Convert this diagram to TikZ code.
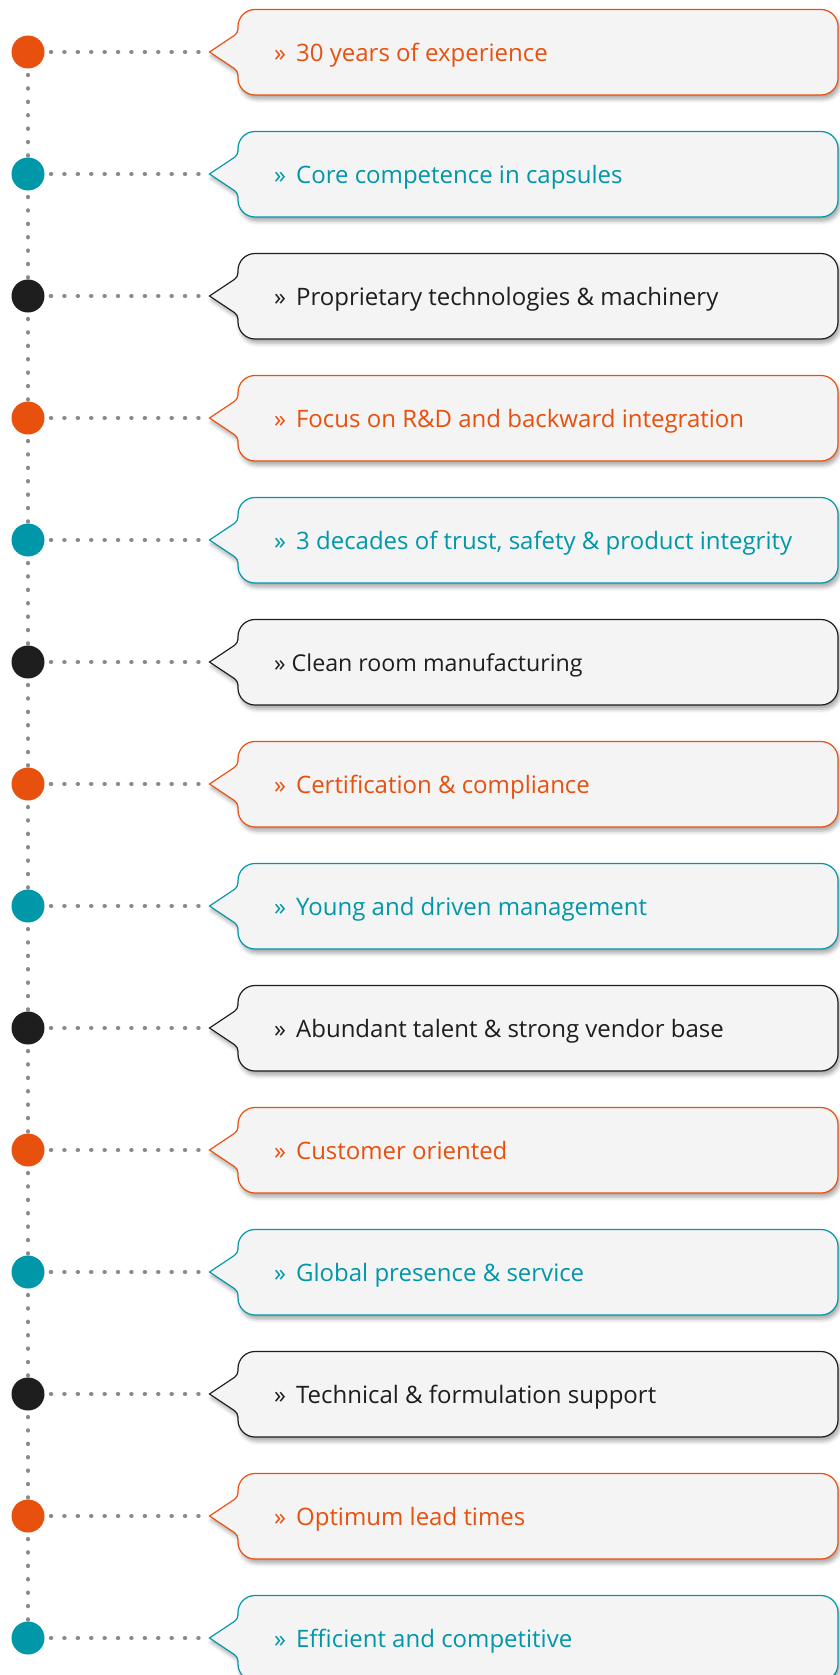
\documentclass[tikz,border=0pt]{standalone}
\usepackage{fontspec}
\setmainfont{Open Sans}
\usetikzlibrary{shadows.blur}
\definecolor{corange}{HTML}{E8500E}
\definecolor{cteal}{HTML}{0097A9}
\definecolor{cblack}{HTML}{1E1E1E}
\definecolor{boxfill}{HTML}{F4F4F4}
\definecolor{dotgray}{HTML}{8A8A8A}
\begin{document}
\begin{tikzpicture}[x=1pt,y=1pt,
  dotnode/.style={circle, minimum size=33pt, inner sep=0pt, fill=#1},
  dotline/.style={draw=dotgray, line width=4.4pt, line cap=round, dash pattern=on 0.1pt off 13.3pt},
  callout/.style={draw=#1, fill=boxfill, line width=1.2pt,
    blur shadow={shadow xshift=2pt, shadow yshift=-4pt, shadow blur radius=4pt, shadow opacity=35}},
  itemtext/.style={text=#1, anchor=base west, inner sep=0pt, font=\fontsize{24}{28}\selectfont}]
\useasboundingbox (0,0) rectangle (839,-1675);
% connectors first (behind dots and callouts)
\foreach \k in {0,...,13} {
  \pgfmathsetmacro\yy{-(52+122*\k)}
  \coordinate (p\k) at (28,\yy);
  \coordinate (tip\k) at (209.5,\yy);
}
\foreach \k in {0,...,13} {
  \path[dotline] ([xshift=23pt]p\k) -- (tip\k);
}
\foreach \k [count=\j from 1] in {0,...,12} {
  \path[dotline] ([yshift=-23pt]p\k) -- (p\j);
}
\foreach \col/\txt [count=\k from 0] in {
  corange/{»\hspace{10pt}30 years of experience},
  cteal/{»\hspace{10pt}Core competence in capsules},
  cblack/{»\hspace{10pt}Proprietary technologies \& machinery},
  corange/{»\hspace{10pt}Focus on R\&D and backward integration},
  cteal/{»\hspace{10pt}3 decades of trust, safety \& product integrity},
  cblack/{\fontsize{23.2}{28}\selectfont» Clean room manufacturing},
  corange/{»\hspace{10pt}Certification \& compliance},
  cteal/{»\hspace{10pt}Young and driven management},
  cblack/{»\hspace{10pt}Abundant talent \& strong vendor base},
  corange/{»\hspace{10pt}Customer oriented},
  cteal/{»\hspace{10pt}Global presence \& service},
  cblack/{»\hspace{10pt}Technical \& formulation support},
  corange/{»\hspace{10pt}Optimum lead times},
  cteal/{»\hspace{10pt}Efficient and competitive}} {
  \pgfmathsetmacro\yy{-(52+122*\k)}
  \node[dotnode=\col] (c\k) at (p\k) {};
  \path[callout=\col, rounded corners=17pt]
    (520,\yy+42.5) -- (838,\yy+42.5) -- (838,\yy-43) -- (238,\yy-43)
    [rounded corners=4pt] -- (238,\yy-19) [sharp corners] -- (tip\k)
    [rounded corners=4pt] -- (238,\yy+19) [rounded corners=17pt] -- (238,\yy+42.5) -- cycle;
  \node[itemtext=\col] (t\k) at (274,\yy-9.5) {\txt};
}
\end{tikzpicture}
\end{document}
